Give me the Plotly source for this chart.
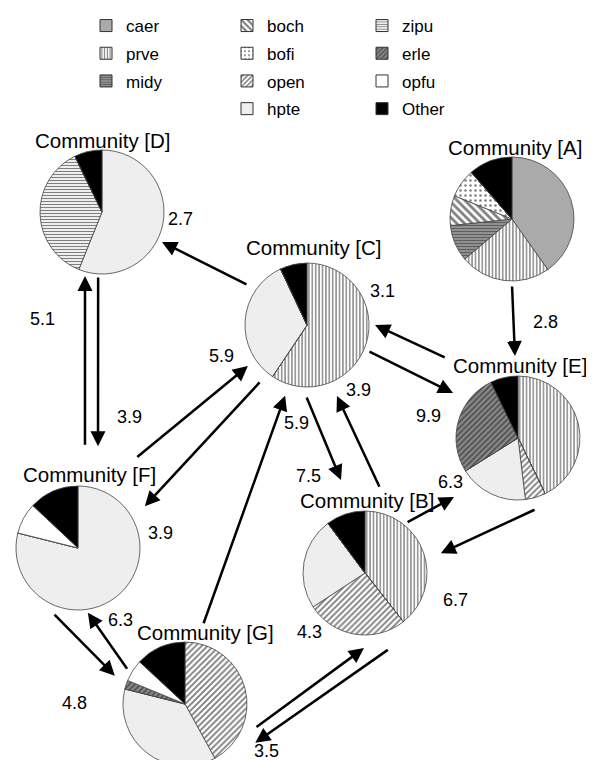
import math
import plotly.graph_objects as go

# ---------------- data ----------------
categories = ["caer", "prve", "midy", "boch", "bofi", "open", "hpte", "zipu", "erle", "opfu", "Other"]

# share (%) of each category inside each community, in the order of `categories`
community_A = [40.2, 23.6, 9.5, 7.8, 7.5, 0, 0, 0, 0, 0, 11.4]
community_B = [0, 39.4, 0, 0, 0, 26.4, 24.0, 0, 0, 0, 10.2]
community_C = [0, 59.4, 0, 0, 0, 0, 33.6, 0, 0, 0, 7.0]
community_D = [0, 0, 0, 0, 0, 0, 56.1, 36.7, 0, 0, 7.2]
community_E = [0, 42.8, 0, 0, 0, 5.3, 18.0, 0, 26.7, 0, 7.2]
community_F = [0, 0, 0, 0, 0, 0, 78.9, 0, 0, 8.1, 13.0]
community_G = [0, 0, 0, 0, 0, 42.0, 36.9, 0, 2.3, 5.7, 13.1]

community_names = ["A", "B", "C", "D", "E", "F", "G"]
community_values = {"A": community_A, "B": community_B, "C": community_C, "D": community_D,
                    "E": community_E, "F": community_F, "G": community_G}

# flows between communities
flow_from = ["C", "A", "E", "D", "F", "F", "C", "G", "C", "B", "C", "B", "E", "B", "G", "F", "G"]
flow_to = ["D", "E", "C", "F", "D", "C", "F", "C", "B", "C", "E", "E", "B", "G", "B", "G", "F"]
flow_value = [2.7, 2.8, 3.1, 3.9, 5.1, 5.9, 3.9, 5.9, 7.5, 3.9, 9.9, 6.3, 6.7, 3.5, 4.3, 4.8, 6.3]

legend_col1 = ["caer", "prve", "midy"]
legend_col2 = ["boch", "bofi", "open", "hpte"]
legend_col3 = ["zipu", "erle", "opfu", "Other"]

# ---------------- layout / style ----------------
W, H = 594, 760
PIE_R = 62
NODE_POS = {"A": (504, 211), "B": (357, 565), "C": (299, 317), "D": (94, 204),
            "E": (510, 430), "F": (70, 540), "G": (177, 696)}
TITLE_OFFSET = {"A": (3, -72), "B": (2, -73), "C": (7, -78), "D": (1, -72),
                "E": (2, -73), "F": (11, -74), "G": (20, -72)}
# per flow: distance from source centre, distance from target centre,
# perpendicular shift at tail, perpendicular shift at head
ARROW_GEOM = [(71, 67, 6.5, 2.7), (66, 82, 1.8, 0.8), (101, 60, 36.5, 32.1),
              (64, 103, -0.7, -12.7), (102, 65, -0.3, -12.4), (104, 71, -24.0, -11.8),
              (72, 77, -8.0, -16.7), (81, 74, -7.1, 0.8), (69, 96, 17.1, 2.2),
              (79, 76, 34.0, 13.0), (66, 78.5, -5.9, -9.0), (64, 87, -10.4, 1.9),
              (33.5, 70, -65.2, -35.3), (25, 34, -75.6, -72.7), (42.5, 45, 60.6, 60.1),
              (39.5, 63, 57.4, 41.9), (60, 59, -27.8, -28.5)]
LABEL_POS = [(172, 211), (537, 314), (374, 283), (121, 409), (34, 311), (213, 348),
             (152, 525), (288, 415), (300, 468), (350, 382), (420, 408), (442, 474),
             (447, 592), (258, 743), (301, 624), (66, 695), (112, 612)]

STYLE = {
    "caer": dict(color="#aaaaaa", shape="", fg="#000000", size=8, sol=0.3),
    "prve": dict(color="#ffffff", shape="|", fg="#000000", size=3.4, sol=0.4),
    "midy": dict(color="#9a9a9a", shape="-", fg="#222222", size=3, sol=0.45),
    "boch": dict(color="#ffffff", shape="\\", fg="#000000", size=5.5, sol=0.5),
    "bofi": dict(color="#ffffff", shape=".", fg="#000000", size=5, sol=0.2),
    "open": dict(color="#ffffff", shape="/", fg="#000000", size=4.2, sol=0.45),
    "hpte": dict(color="#eeeeee", shape="", fg="#000000", size=8, sol=0.3),
    "zipu": dict(color="#ffffff", shape="-", fg="#000000", size=3, sol=0.42),
    "erle": dict(color="#8a8a8a", shape="/", fg="#111111", size=4, sol=0.45),
    "opfu": dict(color="#ffffff", shape="", fg="#000000", size=8, sol=0.3),
    "Other": dict(color="#000000", shape="", fg="#000000", size=8, sol=0.3),
}
FONT = "Liberation Sans, Arial, Helvetica, sans-serif"

fig = go.Figure()

# ---------------- pies ----------------
for name in community_names:
    cx, cy = NODE_POS[name]
    dom_x = [(cx - PIE_R) / W, (cx + PIE_R) / W]
    dom_y = [1 - (cy + PIE_R) / H, 1 - (cy - PIE_R) / H]
    fig.add_trace(go.Pie(
        labels=categories, values=community_values[name],
        sort=False, direction="clockwise", rotation=0,
        textinfo="none", hoverinfo="label+percent", showlegend=False,
        domain=dict(x=dom_x, y=dom_y),
        marker=dict(
            colors=[STYLE[c]["color"] for c in categories],
            line=dict(color="#444444", width=0.8),
            pattern=dict(
                shape=[STYLE[c]["shape"] for c in categories],
                fgcolor=[STYLE[c]["fg"] for c in categories],
                bgcolor=[STYLE[c]["color"] for c in categories],
                size=[STYLE[c]["size"] for c in categories],
                solidity=[STYLE[c]["sol"] for c in categories],
                fillmode="overlay",
            ),
        ),
    ))

# ---------------- legend (three columns) ----------------
for legend_id, col in (("legend", legend_col1), ("legend2", legend_col2), ("legend3", legend_col3)):
    for c in col:
        st = STYLE[c]
        fig.add_trace(go.Bar(
            x=[None], y=[None], name=c, legend=legend_id, legendgroup=c,
            showlegend=True, hoverinfo="skip",
            marker=dict(color=st["color"], line=dict(color="#333333", width=1),
                        pattern=dict(shape=st["shape"], fgcolor=st["fg"], bgcolor=st["color"],
                                     size=st["size"], solidity=st["sol"], fillmode="overlay")),
        ))

annotations = []

# titles
for name in community_names:
    cx, cy = NODE_POS[name]
    dx, dy = TITLE_OFFSET[name]
    annotations.append(dict(x=cx + dx, y=cy + dy, xref="x", yref="y", text=f"Community [{name}]",
                            showarrow=False, font=dict(size=20.5, color="black", family=FONT),
                            xanchor="center", yanchor="middle"))

# arrows and flow labels
for i, (src, dst, val) in enumerate(zip(flow_from, flow_to, flow_value)):
    px, py = NODE_POS[src]
    qx, qy = NODE_POS[dst]
    dx, dy = qx - px, qy - py
    L = math.hypot(dx, dy)
    ux, uy = dx / L, dy / L
    nx, ny = -uy, ux
    s, e, ot, oh = ARROW_GEOM[i]
    tx, ty = px + s * ux + ot * nx, py + s * uy + ot * ny
    hx, hy = qx - e * ux + oh * nx, qy - e * uy + oh * ny
    annotations.append(dict(x=hx, y=hy, ax=tx, ay=ty, xref="x", yref="y", axref="x", ayref="y",
                            text="", showarrow=True, arrowhead=2, arrowsize=1.2, arrowwidth=2.5,
                            arrowcolor="black", standoff=0, startstandoff=0))
    lx, ly = LABEL_POS[i]
    annotations.append(dict(x=lx, y=ly, xref="x", yref="y", text=f"{val:.1f}", showarrow=False,
                            font=dict(size=18, color="black", family=FONT),
                            xanchor="center", yanchor="middle"))

legend_common = dict(xanchor="left", yanchor="top", bgcolor="rgba(0,0,0,0)",
                     font=dict(size=17, color="black", family=FONT), tracegroupgap=2.6,
                     orientation="v", itemclick=False, itemdoubleclick=False)

fig.update_layout(
    width=W, height=H, margin=dict(l=0, r=0, t=0, b=0, pad=0),
    paper_bgcolor="white", plot_bgcolor="white",
    xaxis=dict(range=[0, W], visible=False, fixedrange=True),
    yaxis=dict(range=[H, 0], visible=False, fixedrange=True),
    annotations=annotations,
    legend=dict(x=78 / W, y=1.0, **legend_common),
    legend2=dict(x=219 / W, y=1.0, **legend_common),
    legend3=dict(x=354 / W, y=1.0, **legend_common),
    font=dict(family=FONT),
)

fig.write_html("out.html")
